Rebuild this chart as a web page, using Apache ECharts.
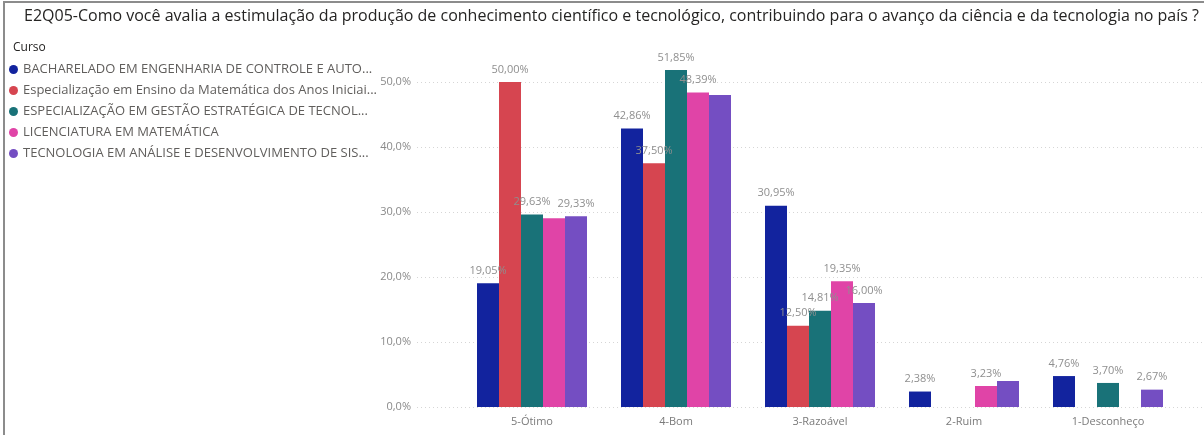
<!DOCTYPE html>
<html>
<head>
<meta charset="utf-8">
<script src="https://cdn.jsdelivr.net/npm/echarts@6/dist/echarts.min.js"></script>
<style>
html,body{margin:0;padding:0;background:#fff;}
#chart{width:1204px;height:435px;}
</style>
</head>
<body>
<div id="chart"></div>
<script>
const titleText = 'E2Q05-Como você avalia a estimulação da produção de conhecimento científico e tecnológico, contribuindo para o avanço da ciência e da tecnologia no país ?';
const legendTitle = 'Curso';
const categories = ['5-Ótimo', '4-Bom', '3-Razoável', '2-Ruim', '1-Desconheço'];
const seriesNames = [
  'BACHARELADO EM ENGENHARIA DE CONTROLE E AUTO...',
  'Especialização em Ensino da Matemática dos Anos Iniciai...',
  'ESPECIALIZAÇÃO EM GESTÃO ESTRATÉGICA DE TECNOL...',
  'LICENCIATURA EM MATEMÁTICA',
  'TECNOLOGIA EM ANÁLISE E DESENVOLVIMENTO DE SIS...'
];
const bacharelado = [19.05, 42.86, 30.95, 2.38, 4.76];
const especEnsino = [50.00, 37.50, 12.50, null, null];
const especGestao = [29.63, 51.85, 14.81, null, 3.70];
const licenciatura = [29.03, 48.39, 19.35, 3.23, null];
const tecnologia = [29.33, 48.00, 16.00, 4.00, 2.67];
const yTicks = [0, 10, 20, 30, 40, 50];
// labels Power BI dropped because of overlap: [series index, category index]
const hiddenLabels = [[3, 0], [4, 1], [4, 3]];

const colors = ['#12239E', '#D64550', '#197278', '#E044A7', '#744EC2'];
const allValues = [bacharelado, especEnsino, especGestao, licenciatura, tecnologia];

const chart = echarts.init(document.getElementById('chart'));
const fmtPct = v => v.toFixed(2).replace('.', ',') + '%';
const gridCol = '#d6d6d6';

const series = allValues.map((vals, si) => ({
  name: seriesNames[si],
  type: 'bar',
  xAxisIndex: 0,
  yAxisIndex: 0,
  barWidth: 22,
  barGap: '0%',
  itemStyle: { color: colors[si] },
  label: {
    show: true,
    position: 'top',
    distance: 7,
    color: '#8f8f8f',
    fontSize: 11,
    fontFamily: 'Open Sans',
    formatter: p => fmtPct(p.value)
  },
  data: vals.map((v, ci) => {
    const hide = hiddenLabels.some(h => h[0] === si && h[1] === ci);
    return hide ? { value: v, label: { show: false } } : v;
  })
}));

const option = {
  animation: false,
  color: colors,
  title: [
    {
      text: titleText,
      left: 19, top: 3,
      textStyle: { fontSize: 16, fontWeight: 'normal', color: '#252423', fontFamily: 'Open Sans' }
    },
    {
      text: legendTitle,
      left: 8, top: 37,
      textStyle: { fontSize: 12, fontWeight: 'normal', color: '#252423', fontFamily: 'Open Sans' }
    }
  ],
  legend: {
    orient: 'vertical',
    left: 4, top: 58,
    icon: 'circle',
    itemWidth: 9, itemHeight: 9,
    itemGap: 8,
    textStyle: { fontSize: 13, color: '#605E5C', fontFamily: 'Open Sans' },
    data: seriesNames
  },
  grid: [
    { left: 460, right: 24, top: 49.5, bottom: 28 },
    { left: 417, right: 0, top: 49.5, bottom: 28 }
  ],
  xAxis: [
    {
      type: 'category', gridIndex: 0, data: categories,
      axisLine: { show: false }, axisTick: { show: false },
      axisLabel: { color: '#7a7a7a', fontSize: 11, fontFamily: 'Open Sans', margin: 9 }
    },
    { type: 'category', gridIndex: 1, data: categories, show: false }
  ],
  yAxis: [
    { type: 'value', gridIndex: 0, min: 0, max: 55, interval: 10, show: false, splitLine: { show: false } },
    {
      type: 'value', gridIndex: 1, min: yTicks[0], max: 55, interval: 10,
      axisLine: { show: false }, axisTick: { show: false },
      axisLabel: {
        color: '#8a8a8a', fontSize: 11, fontFamily: 'Open Sans', margin: 6,
        formatter: v => yTicks.includes(v) ? v.toFixed(1).replace('.', ',') + '%' : ''
      },
      splitLine: {
        show: true,
        lineStyle: { type: [1, 3], width: 1, color: [gridCol, gridCol, gridCol, gridCol, gridCol, gridCol, 'rgba(0,0,0,0)'] }
      }
    }
  ],
  graphic: [
    {
      type: 'polyline',
      shape: { points: [[4, 440], [4, 2], [1210, 2]] },
      style: { stroke: '#8c8c8c', lineWidth: 2, fill: null }
    }
  ],
  series: series
};
chart.setOption(option);
</script>
</body>
</html>
